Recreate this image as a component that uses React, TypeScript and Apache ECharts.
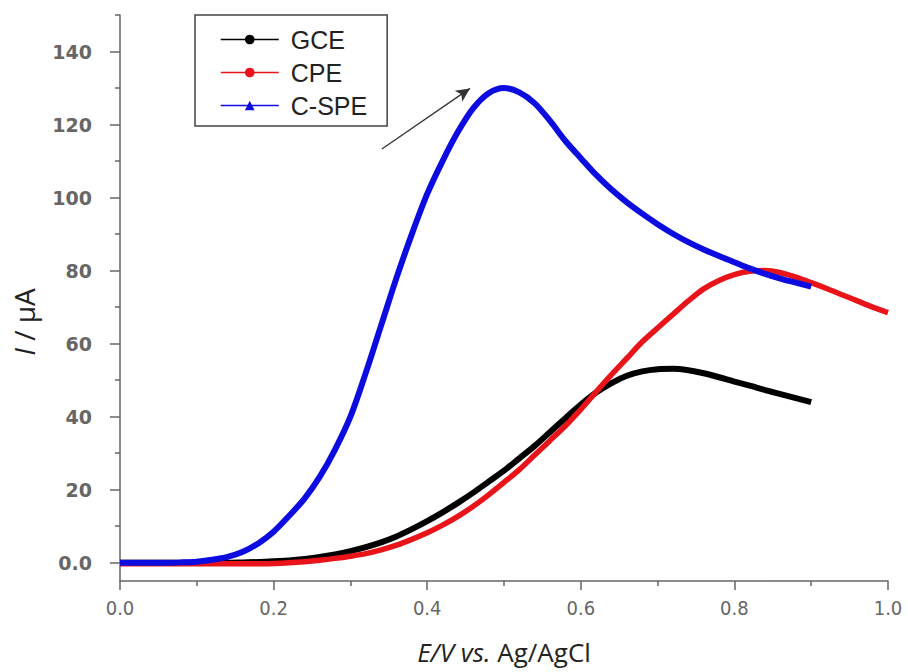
import React, { useEffect, useRef } from "react";
import * as echarts from "echarts";

// Potential E (V vs. Ag/AgCl)
const E_VALUES = [
  0.0, 0.02, 0.04, 0.06, 0.08, 0.1, 0.12, 0.14, 0.16, 0.18,
  0.2, 0.22, 0.24, 0.26, 0.28, 0.3, 0.32, 0.34, 0.36, 0.38,
  0.4, 0.42, 0.44, 0.46, 0.48, 0.5, 0.52, 0.54, 0.56, 0.58,
  0.6, 0.62, 0.64, 0.66, 0.68, 0.7, 0.72, 0.74, 0.76, 0.78,
  0.8, 0.82, 0.84, 0.86, 0.88, 0.9, 0.92, 0.94, 0.96, 0.98, 1.0,
];

// Current I (µA)
const GCE = [
  0, 0, 0, 0, 0, 0, 0, 0, 0.1, 0.2,
  0.4, 0.6, 1.0, 1.6, 2.3, 3.2, 4.3, 5.6, 7.2, 9.2,
  11.4, 13.8, 16.4, 19.2, 22.2, 25.2, 28.6, 32, 35.8, 39.6,
  43.3, 46.6, 49.2, 51.2, 52.4, 53, 53.1, 52.7, 51.9, 50.8,
  49.6, 48.5, 47.3, 46.2, 45.1, 44,
];

const CPE = [
  -0.3, -0.3, -0.3, -0.3, -0.3, -0.3, -0.3, -0.3, -0.3, -0.3,
  -0.2, 0, 0.3, 0.7, 1.2, 1.8, 2.5, 3.5, 4.8, 6.4,
  8.2, 10.3, 12.7, 15.5, 18.6, 22, 25.5, 29.5, 33.5, 37.5,
  42, 46.8, 51.5, 56, 60.5, 64.3, 68, 71.7, 75, 77.3,
  78.9, 79.8, 80, 79.4, 78.2, 76.7, 75.1, 73.4, 71.7, 70, 68.5,
];

const C_SPE = [
  0, 0, 0, 0, 0.1, 0.3, 0.8, 1.6, 3.0, 5.3,
  8.5, 12.8, 17.5, 23.5, 31, 40, 52, 65, 78, 90,
  101, 110, 118, 124.5, 128.6, 130, 128.8, 125.8, 121, 115.5,
  110.8, 106.2, 102.2, 98.7, 95.6, 92.7, 90.1, 87.8, 85.8, 84,
  82.3, 80.6, 79.1, 77.8, 76.7, 75.6,
];

const SERIES_NAMES = ["GCE", "CPE", "C-SPE"];
const X_TICKS = [0, 0.2, 0.4, 0.6, 0.8, 1.0];
const Y_MAJOR_TICKS = [0, 20, 40, 60, 80, 100, 120, 140];
const Y_MINOR_TICKS = [10, 30, 50, 70, 90, 110, 130, 150];
const ARROW_START = [0.341, 113.3];
const ARROW_END = [0.4557, 129.9];

const pairs = (ys: number[]) => ys.map((y, i) => [E_VALUES[i], y]);

export default function App() {
  const ref = useRef<HTMLDivElement>(null);
  useEffect(() => {
    document.body.style.margin = "0";
    if (!ref.current) return;
    const chart = echarts.init(ref.current, undefined, { renderer: "svg" });
    const axisColor = "#666";
    const lineSeries = (
      name: string,
      data: number[][],
      color: string,
      symbol: string,
      width: number
    ) => ({
      name,
      type: "line",
      data,
      smooth: 0.3,
      symbol,
      symbolSize: 8,
      showSymbol: false,
      lineStyle: { color, width },
      itemStyle: { color },
      z: 2,
    });
    chart.setOption({
      animation: false,
      backgroundColor: "#fff",
      grid: {
        left: 120,
        right: 20,
        top: 15,
        bottom: 91,
        containLabel: false,
        outerBoundsMode: "none",
      },
      legend: {
        orient: "vertical",
        left: 195,
        top: 15,
        data: SERIES_NAMES,
        backgroundColor: "#fff",
        borderColor: "#444",
        borderWidth: 1.5,
        borderRadius: 0,
        padding: [12, 20, 8, 25],
        itemWidth: 58,
        itemHeight: 12,
        itemGap: 8,
        lineStyle: { width: 1.5 },
        textStyle: {
          fontFamily: "Liberation Sans",
          fontSize: 25,
          color: "#222",
          lineHeight: 24,
          padding: [0, 0, 0, 7],
        },
      },
      xAxis: {
        type: "value",
        min: 0,
        max: 1,
        interval: 0.2,
        name: "{i|E/V} {i|vs.} Ag/AgCl",
        nameLocation: "middle",
        nameGap: 58,
        nameTextStyle: {
          fontFamily: "Open Sans",
          fontSize: 26,
          color: "#222",
          rich: {
            i: { fontFamily: "Open Sans", fontSize: 26, fontStyle: "italic", color: "#222" },
          },
        },
        axisLine: { show: true, onZero: false, lineStyle: { color: axisColor, width: 1.5 } },
        axisTick: { show: true, length: 9, lineStyle: { color: axisColor, width: 1.5 } },
        minorTick: { show: true, splitNumber: 2, length: 5, lineStyle: { color: axisColor, width: 1.5 } },
        axisLabel: {
          fontFamily: "DejaVu Sans Condensed, DejaVu Sans",
          fontSize: 20,
          color: "#666",
          margin: 17,
          customValues: X_TICKS,
          formatter: (v: number) => v.toFixed(1),
        },
        splitLine: { show: false },
      },
      yAxis: [
        {
          type: "value",
          min: -5,
          max: 150,
          name: "{i|I} / μA",
          nameLocation: "middle",
          nameRotate: 90,
          nameGap: 82,
          nameTextStyle: {
            fontFamily: "Open Sans",
            fontSize: 28,
            color: "#222",
            padding: [0, 48, 0, 0],
            rich: {
              i: { fontFamily: "Open Sans", fontSize: 28, fontStyle: "italic", color: "#222" },
            },
          },
          axisLine: { show: true, onZero: false, lineStyle: { color: axisColor, width: 1.5 } },
          axisTick: {
            show: true,
            length: 10,
            customValues: Y_MAJOR_TICKS,
            lineStyle: { color: axisColor, width: 1.5 },
          },
          axisLabel: {
            fontFamily: "DejaVu Sans",
            fontWeight: "bold",
            fontSize: 19,
            color: "#666",
            margin: 28,
            customValues: Y_MAJOR_TICKS,
            formatter: (v: number) => (v === 0 ? "0.0" : String(v)),
          },
          splitLine: { show: false },
        },
        {
          type: "value",
          min: -5,
          max: 150,
          position: "left",
          axisLine: { show: false, onZero: false },
          axisTick: {
            show: true,
            length: 5,
            customValues: Y_MINOR_TICKS,
            lineStyle: { color: axisColor, width: 1.5 },
          },
          axisLabel: { show: false },
          splitLine: { show: false },
        },
      ],
      series: [
        lineSeries(SERIES_NAMES[0], pairs(GCE), "#000000", "circle", 6),
        lineSeries(SERIES_NAMES[1], pairs(CPE), "#e8141a", "circle", 5.5),
        {
          ...lineSeries(SERIES_NAMES[2], pairs(C_SPE), "#0c0ce0", "triangle", 6),
          markLine: {
            silent: true,
            symbol: ["none", "arrow"],
            symbolSize: [10, 14],
            label: { show: false },
            lineStyle: { color: "#333", width: 1.3, type: "solid" },
            data: [[{ coord: ARROW_START }, { coord: ARROW_END }]],
          },
        },
      ],
    });
    return () => chart.dispose();
  }, []);
  return <div ref={ref} style={{ width: 908, height: 672 }} />;
}
